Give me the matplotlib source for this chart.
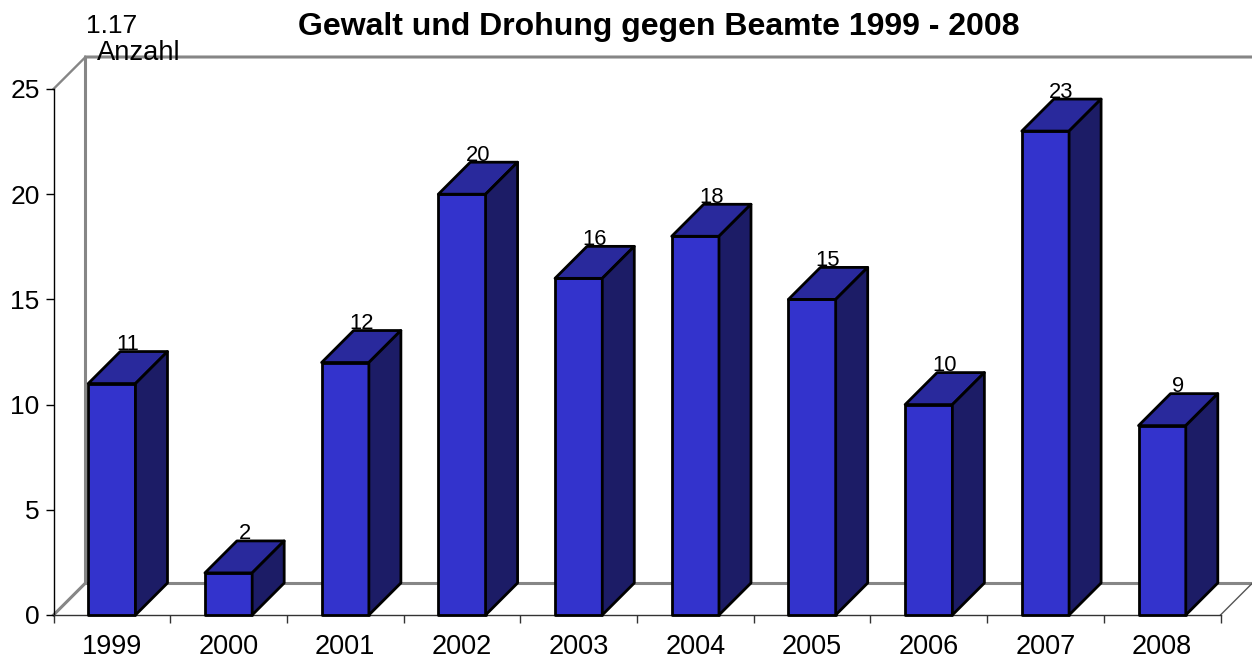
import matplotlib
matplotlib.use('Agg')
import matplotlib.pyplot as plt
from matplotlib.patches import Polygon

years = ['1999', '2000', '2001', '2002', '2003', '2004', '2005', '2006', '2007', '2008']
counts = [11, 2, 12, 20, 16, 18, 15, 10, 23, 9]
yticks = [0, 5, 10, 15, 20, 25]

plt.rcParams['font.family'] = ['Liberation Sans', 'DejaVu Sans']

W, H = 1252, 663
left, right, bottom, top = 53.5, 1220.5, 615, 89
depth = 32
bar_w = 0.405

fig = plt.figure(figsize=(W / 100, H / 100), dpi=100)
ax = fig.add_axes([left / W, 1 - bottom / H, (right - left) / W, (bottom - top) / H])
ax.set_xlim(0, len(years))
ax.set_ylim(0, 25)

# depth of the fake 3d box, in data units
dx = depth / ((right - left) / len(years))
dy = depth / ((bottom - top) / 25)

grey = '#868686'
# back wall and floor
ax.plot([0, dx, dx, 10 + dx], [0, dy, 25 + dy, 25 + dy], color=grey, lw=2.2, clip_on=False, zorder=1, solid_joinstyle='miter')
ax.plot([0, dx], [25, 25 + dy], color=grey, lw=1.7, clip_on=False, zorder=1)
ax.plot([dx, 10 + dx], [dy, dy], color=grey, lw=2.2, clip_on=False, zorder=1)
ax.plot([10, 10 + dx], [0, dy], color='#555555', lw=1, clip_on=False, zorder=1)
ax.plot([10 + dx, 10 + dx], [dy, 25 + dy], color=grey, lw=1, clip_on=False, zorder=1)

for i, v in enumerate(counts):
    x0 = i + 0.5 - bar_w / 2
    x1 = i + 0.5 + bar_w / 2
    box = [
        ([(x0, 0), (x1, 0), (x1, v), (x0, v)], '#3333cc'),
        ([(x0, v), (x1, v), (x1 + dx, v + dy), (x0 + dx, v + dy)], '#29299c'),
        ([(x1, 0), (x1 + dx, dy), (x1 + dx, v + dy), (x1, v)], '#1c1c66'),
    ]
    for pts, col in box:
        ax.add_patch(Polygon(pts, closed=True, facecolor=col, edgecolor='black', lw=2,
                             joinstyle='round', clip_on=False, zorder=3))
    ax.text(i + 0.5 + dx / 2, v + dy - 0.17, str(v), ha='center', va='bottom', fontsize=15.8,
            color='black', zorder=4, clip_on=False)

for s in ['top', 'right']:
    ax.spines[s].set_visible(False)
ax.spines['left'].set_linewidth(1)
ax.spines['bottom'].set_linewidth(1)
ax.spines['bottom'].set_color('#333333')

ax.set_xticks(range(len(years) + 1))
ax.set_xticklabels([])
ax.set_xticks([i + 0.5 for i in range(len(years))], minor=True)
ax.set_xticklabels(years, minor=True)
ax.tick_params(axis='x', which='major', length=6, width=1, color='#333333')
ax.tick_params(axis='x', which='minor', length=0, pad=14, labelsize=19.5)
ax.set_yticks(yticks)
ax.tick_params(axis='y', length=6, width=1, pad=4, labelsize=19)

fig.text(659 / W, 1 - 27.5 / H, 'Gewalt und Drohung gegen Beamte 1999 - 2008', ha='center', va='center',
         fontsize=23, fontweight='bold')
fig.text(86 / W, 1 - 33 / H, '1.17', ha='left', va='baseline', fontsize=19)
fig.text(97 / W, 1 - 60.5 / H, 'Anzahl', ha='left', va='baseline', fontsize=19.7)

fig.savefig('out.png', dpi=100)
